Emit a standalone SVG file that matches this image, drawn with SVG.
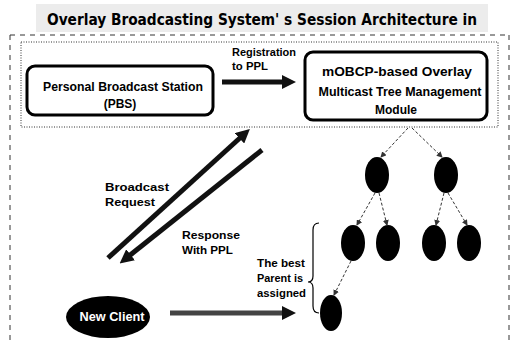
<svg xmlns="http://www.w3.org/2000/svg" width="512" height="345" viewBox="0 0 512 345">
<style>
.t{font-family:"Liberation Sans",Arial,sans-serif;font-weight:bold;fill:#000}
.box{fill:#fff;stroke:#000;stroke-width:3}
.node{fill:#000}
.tree{stroke:#333;stroke-width:1;stroke-dasharray:3,2;fill:none}
.fat{stroke:#111;stroke-width:5;fill:none}
</style>
<defs>
<marker id="sm" markerWidth="6" markerHeight="6" refX="5" refY="3" orient="auto" markerUnits="userSpaceOnUse">
<path d="M0,0 L6,3 L0,6 Z" fill="#333"/>
</marker>
<marker id="big" markerWidth="14" markerHeight="14" refX="2" refY="7" orient="auto" markerUnits="userSpaceOnUse">
<path d="M0,0 L14,7 L0,14 Z" fill="#111"/>
</marker>
</defs>
<rect x="0" y="0" width="512" height="345" fill="#fff"/>
<rect x="36" y="4" width="452" height="28" fill="#ececec"/>
<text x="262" y="25" text-anchor="middle" font-family="'DejaVu Sans Condensed','DejaVu Sans',sans-serif" font-weight="bold" font-size="16" textLength="430" lengthAdjust="spacingAndGlyphs">Overlay Broadcasting System' s Session Architecture in</text>
<g id="frame">
<path d="M10,35 L509,35 M10,35 L10,345 M509,35 L509,345" stroke="#333" stroke-width="1" stroke-dasharray="5,5" fill="none"/>
<rect x="21" y="42" width="477" height="85" fill="none" stroke="#333" stroke-width="1" stroke-dasharray="1,1.5"/>
</g>
<g id="pbs">
<rect class="box" x="27" y="66" width="186" height="49" rx="8"/>
<text class="t" x="123" y="91" text-anchor="middle" font-size="12" textLength="160" lengthAdjust="spacingAndGlyphs">Personal Broadcast Station</text>
<text class="t" x="120" y="108" text-anchor="middle" font-size="12">(PBS)</text>
</g>
<g id="module">
<rect class="box" x="305" y="52" width="182" height="68" rx="8"/>
<text class="t" x="397" y="76" text-anchor="middle" font-size="12" textLength="150" lengthAdjust="spacingAndGlyphs">mOBCP-based Overlay</text>
<text class="t" x="400" y="96" text-anchor="middle" font-size="12" textLength="163" lengthAdjust="spacingAndGlyphs">Multicast Tree Management</text>
<text class="t" x="396" y="114" text-anchor="middle" font-size="12">Module</text>
</g>
<g id="newclient">
<ellipse class="node" cx="108" cy="317" rx="42" ry="21"/>
<text class="t" x="112" y="321" text-anchor="middle" font-size="12" style="fill:#fff" textLength="65" lengthAdjust="spacingAndGlyphs">New Client</text>
</g>
<g id="tree-nodes">
<ellipse class="node" cx="377" cy="175" rx="12" ry="18"/>
<ellipse class="node" cx="446" cy="175" rx="12" ry="18"/>
<ellipse class="node" cx="353" cy="243" rx="12" ry="18"/>
<ellipse class="node" cx="388" cy="243" rx="12" ry="18"/>
<ellipse class="node" cx="434" cy="243" rx="12" ry="18"/>
<ellipse class="node" cx="469" cy="243" rx="12" ry="18"/>
<ellipse class="node" cx="331" cy="313" rx="11" ry="18"/>
</g>
<g id="connectors">
<line class="fat" x1="222" y1="82" x2="284" y2="82" marker-end="url(#big)"/>
<line class="fat" x1="108" y1="258" x2="241" y2="137" marker-end="url(#big)"/>
<line class="fat" x1="262" y1="150" x2="129" y2="256" marker-end="url(#big)"/>
<line class="fat" x1="170" y1="313" x2="284" y2="313" style="stroke:#444" marker-end="url(#big)"/>
<line class="tree" x1="408" y1="128" x2="381" y2="157" marker-end="url(#sm)"/>
<line class="tree" x1="412" y1="128" x2="442" y2="157" marker-end="url(#sm)"/>
<line class="tree" x1="375" y1="193" x2="357" y2="225" marker-end="url(#sm)"/>
<line class="tree" x1="379" y1="193" x2="387" y2="225" marker-end="url(#sm)"/>
<line class="tree" x1="444" y1="193" x2="436" y2="225" marker-end="url(#sm)"/>
<line class="tree" x1="448" y1="193" x2="467" y2="225" marker-end="url(#sm)"/>
<line class="tree" x1="351" y1="261" x2="334" y2="295" marker-end="url(#sm)"/>
<path d="M319,223 Q313,223 313,230 L313,276 Q313,282 308,282 Q313,282 313,288 L313,306 Q313,313 319,313" fill="none" stroke="#000" stroke-width="1.2"/>
</g>
<g id="labels">
<text class="t" x="232" y="56" font-size="10" textLength="64" lengthAdjust="spacingAndGlyphs">Registration</text>
<text class="t" x="232" y="70" font-size="10" textLength="36" lengthAdjust="spacingAndGlyphs">to PPL</text>
<text class="t" x="105" y="191" font-size="11" textLength="64" lengthAdjust="spacingAndGlyphs">Broadcast</text>
<text class="t" x="105" y="206" font-size="11" textLength="50" lengthAdjust="spacingAndGlyphs">Request</text>
<text class="t" x="182" y="239" font-size="11" textLength="58" lengthAdjust="spacingAndGlyphs">Response</text>
<text class="t" x="182" y="254" font-size="11" textLength="51" lengthAdjust="spacingAndGlyphs">With PPL</text>
<text class="t" x="257" y="267" font-size="10.5" textLength="48" lengthAdjust="spacingAndGlyphs">The best</text>
<text class="t" x="257" y="282" font-size="10.5" textLength="46" lengthAdjust="spacingAndGlyphs">Parent is</text>
<text class="t" x="257" y="297" font-size="10.5" textLength="49" lengthAdjust="spacingAndGlyphs">assigned</text>
</g>
</svg>
